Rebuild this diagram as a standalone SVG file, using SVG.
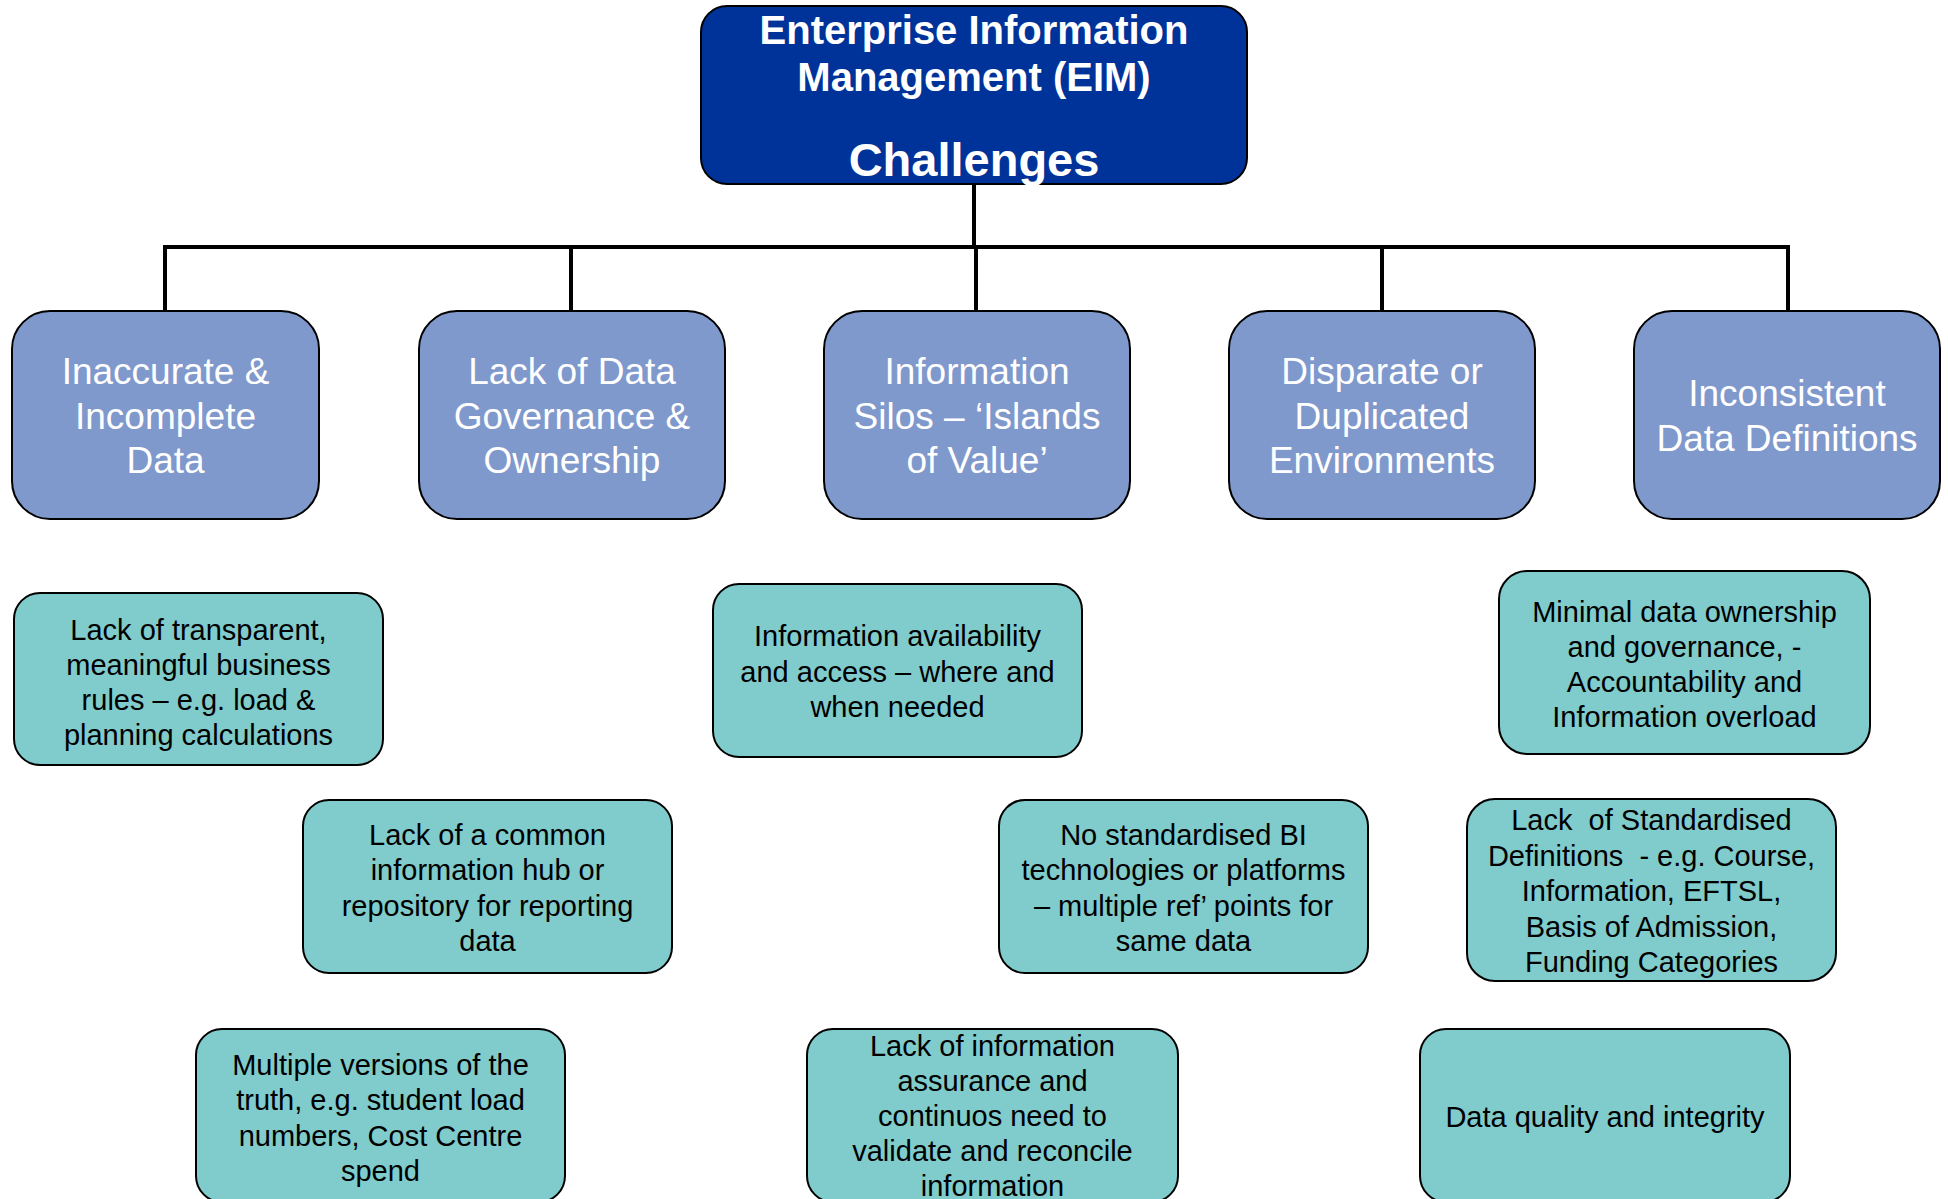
<svg xmlns="http://www.w3.org/2000/svg" width="1948" height="1199" viewBox="0 0 1948 1199">
<style>
  .root rect{fill:#003399;stroke:#000;stroke-width:2}
  .root text{fill:#fff;font-family:"Liberation Sans",Arial,sans-serif;font-weight:bold;text-anchor:middle}
  .cat rect{fill:#7F99CC;stroke:#000;stroke-width:2}
  .cat text{fill:#fff;font-family:"Liberation Sans",Arial,sans-serif;font-size:37px;text-anchor:middle}
  .item rect{fill:#80CBCB;stroke:#000;stroke-width:2}
  .item text{fill:#000;font-family:"Liberation Sans",Arial,sans-serif;font-size:29px;text-anchor:middle;white-space:pre}
  .conn path{fill:none;stroke:#000;stroke-width:4}
</style>
<rect width="1948" height="1199" fill="#fff"/>
<g class="conn" id="connectors">
  <path d="M974 184 V247"/>
  <path d="M165 311 V247 H1788 V311"/>
  <path d="M571 247 V311"/>
  <path d="M976 247 V311"/>
  <path d="M1382 247 V311"/>
</g>
<g class="root" id="eim">
  <rect x="701" y="6" width="546" height="178" rx="26"/>
  <text x="974" y="44" font-size="40">Enterprise Information</text>
  <text x="974" y="91" font-size="40">Management (EIM)</text>
  <text x="974" y="176" font-size="47">Challenges</text>
</g>
<g class="cat" id="cat1">
  <rect x="12" y="311" width="307" height="208" rx="38"/>
  <text x="165.5" y="384">Inaccurate &amp;</text>
  <text x="165.5" y="429">Incomplete</text>
  <text x="165.5" y="473">Data</text>
</g>
<g class="cat" id="cat2">
  <rect x="419" y="311" width="306" height="208" rx="38"/>
  <text x="572" y="384">Lack of Data</text>
  <text x="572" y="429">Governance &amp;</text>
  <text x="572" y="473">Ownership</text>
</g>
<g class="cat" id="cat3">
  <rect x="824" y="311" width="306" height="208" rx="38"/>
  <text x="977" y="384">Information</text>
  <text x="977" y="429">Silos – ‘Islands</text>
  <text x="977" y="473">of Value’</text>
</g>
<g class="cat" id="cat4">
  <rect x="1229" y="311" width="306" height="208" rx="38"/>
  <text x="1382" y="384">Disparate or</text>
  <text x="1382" y="429">Duplicated</text>
  <text x="1382" y="473">Environments</text>
</g>
<g class="cat" id="cat5">
  <rect x="1634" y="311" width="306" height="208" rx="38"/>
  <text x="1787" y="406">Inconsistent</text>
  <text x="1787" y="451">Data Definitions</text>
</g>
<g class="item" id="item1">
  <rect x="14" y="593" width="369" height="172" rx="26"/>
  <text x="198.5" y="640">Lack of transparent,</text>
  <text x="198.5" y="675">meaningful business</text>
  <text x="198.5" y="710">rules – e.g. load &amp;</text>
  <text x="198.5" y="745">planning calculations</text>
</g>
<g class="item" id="item2">
  <rect x="303" y="800" width="369" height="173" rx="26"/>
  <text x="487.5" y="845">Lack of a common</text>
  <text x="487.5" y="880">information hub or</text>
  <text x="487.5" y="916">repository for reporting</text>
  <text x="487.5" y="951">data</text>
</g>
<g class="item" id="item3">
  <rect x="196" y="1029" width="369" height="173" rx="26"/>
  <text x="380.5" y="1075">Multiple versions of the</text>
  <text x="380.5" y="1110">truth, e.g. student load</text>
  <text x="380.5" y="1146">numbers, Cost Centre</text>
  <text x="380.5" y="1181">spend</text>
</g>
<g class="item" id="item4">
  <rect x="713" y="584" width="369" height="173" rx="26"/>
  <text x="897.5" y="646">Information availability</text>
  <text x="897.5" y="682">and access – where and</text>
  <text x="897.5" y="717">when needed</text>
</g>
<g class="item" id="item5">
  <rect x="999" y="800" width="369" height="173" rx="26"/>
  <text x="1183.5" y="845">No standardised BI</text>
  <text x="1183.5" y="880">technologies or platforms</text>
  <text x="1183.5" y="916">– multiple ref’ points for</text>
  <text x="1183.5" y="951">same data</text>
</g>
<g class="item" id="item6">
  <rect x="807" y="1029" width="371" height="173" rx="26"/>
  <text x="992.5" y="1056">Lack of information</text>
  <text x="992.5" y="1091">assurance and</text>
  <text x="992.5" y="1126">continuos need to</text>
  <text x="992.5" y="1161">validate and reconcile</text>
  <text x="992.5" y="1196">information</text>
</g>
<g class="item" id="item7">
  <rect x="1499" y="571" width="371" height="183" rx="28"/>
  <text x="1684.5" y="622">Minimal data ownership</text>
  <text x="1684.5" y="657">and governance, -</text>
  <text x="1684.5" y="692">Accountability and</text>
  <text x="1684.5" y="727">Information overload</text>
</g>
<g class="item" id="item8">
  <rect x="1467" y="799" width="369" height="182" rx="28"/>
  <text x="1651.5" y="830">Lack  of Standardised</text>
  <text x="1651.5" y="866">Definitions  - e.g. Course,</text>
  <text x="1651.5" y="901">Information, EFTSL,</text>
  <text x="1651.5" y="937">Basis of Admission,</text>
  <text x="1651.5" y="972">Funding Categories</text>
</g>
<g class="item" id="item9">
  <rect x="1420" y="1029" width="370" height="173" rx="26"/>
  <text x="1605" y="1127">Data quality and integrity</text>
</g>
</svg>
